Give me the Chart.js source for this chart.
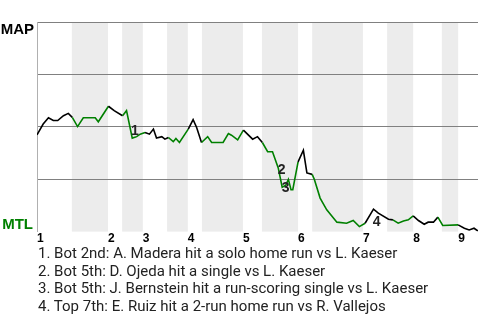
<!DOCTYPE html>
<html>
<head>
<meta charset="utf-8">
<script src="https://cdn.jsdelivr.net/npm/chart.js@4.4.0/dist/chart.umd.min.js"></script>
<style>
  body { margin:0; background:#fff; }
  #wrap { position:relative; width:480px; height:320px; }
  #notes { position:absolute; left:38px; top:245px; font:15px Roboto, sans-serif; color:#222; line-height:17.7px; white-space:nowrap; }
</style>
</head>
<body>
<div id="wrap">
  <canvas id="myChart" width="480" height="246"></canvas>
  <div id="notes"></div>
</div>
<script>
// game progress (plays, 0..100) and MAP win probability in %
const playX = [0,1.4,2.6,3.7,4.7,6.0,7.1,8.0,9.2,10.5,13.2,13.9,16.2,17.5,19.4,20.3,21.6,22.6,23.4,24.5,
  25.5,26.4,27.1,28.3,29.0,29.8,30.9,31.5,32.3,34.3,35.4,36.2,37.3,38.7,39.6,42.2,43.4,44.1,45.5,46.8,
  48.9,50.0,51.1,52.3,53.4,54.7,55.6,56.4,57.0,57.6,58.0,59.2,60.4,61.2,62.4,62.9,64.2,65.7,68.0,70.2,
  71.7,73.1,74.4,76.3,77.4,79.7,80.7,81.9,83.1,84.2,85.3,86.5,87.8,88.7,89.9,90.9,92.0,95.5,96.9,98.0,99.1,100];
const mapWinPct = [46.2,51.3,54.3,53.0,53.0,55.3,56.4,54.5,50.1,54.3,54.3,52.4,59.8,57.7,55.3,57.7,44.6,45.3,46.5,47.3,
  46.5,48.9,44.6,45.3,44.1,44.9,42.9,44.4,42.5,48.9,53.4,49.7,42.5,45.3,42.5,42.5,46.8,46.0,43.8,48.4,
  44.1,45.3,42.5,38.1,38.1,30.4,21.2,22.1,24.9,20.0,20.0,33.3,38.8,28.0,27.3,24.9,16.0,10.4,4.5,4.0,
  5.3,2.4,4.0,10.7,8.8,5.9,5.6,4.0,5.1,5.6,7.5,5.3,3.5,4.5,4.5,6.9,2.9,3.2,1.6,0.8,1.6,0.3];

const innings = ['1','2','3','4','5','6','7','8','9'];
const inningStart = [0,16.1,24.0,34.2,46.7,59.2,73.9,85.3,95.5];
const bottomStart = [7.9,19.3,29.5,37.4,51.0,62.4,79.4,91.8];
// MTL batting (line drawn green)
const greenFrom = [7.9,19.3,29.5,37.2,51.0,62.4,80.7,90.9];
const greenTo = [16.1,24.0,34.2,46.7,59.2,73.9,85.3,95.5];

const eventNum = ['1','2','3','4'];
const eventX = [22.2,55.5,56.4,77.0];
const eventY = [48.1,29.2,20.8,4.3];
const eventText = [
  'Bot 2nd: A. Madera hit a solo home run vs L. Kaeser',
  'Bot 5th: D. Ojeda hit a single vs L. Kaeser',
  'Bot 5th: J. Bernstein hit a run-scoring single vs L. Kaeser',
  'Top 7th: E. Ruiz hit a 2-run home run vs R. Vallejos'
];

const green = '#008000';

document.getElementById('notes').innerHTML =
  eventText.map((t,i) => eventNum[i] + '. ' + t).join('<br>');

function isGreen(x) {
  for (let i = 0; i < greenFrom.length; i++) {
    if (x >= greenFrom[i] && x < greenTo[i]) return true;
  }
  return false;
}

const bandsPlugin = {
  id: 'bands',
  beforeDraw(chart) {
    const c = chart.ctx, a = chart.chartArea, xs = chart.scales.x;
    c.save();
    c.fillStyle = '#ececec';
    for (let i = 0; i < bottomStart.length; i++) {
      const x0 = xs.getPixelForValue(bottomStart[i]);
      const x1 = xs.getPixelForValue(inningStart[i+1]);
      c.fillRect(x0, a.top, x1 - x0, a.bottom - a.top);
    }
    c.restore();
  }
};

const labelsPlugin = {
  id: 'labels',
  afterDatasetsDraw(chart) {
    const c = chart.ctx, a = chart.chartArea, xs = chart.scales.x, ys = chart.scales.y;
    c.save();
    c.font = 'bold 15px "Liberation Sans", Arial, sans-serif';
    c.textAlign = 'right';
    c.textBaseline = 'alphabetic';
    c.fillStyle = '#000';
    c.fillText('MAP', a.left - 3, a.top + 12);
    c.fillStyle = green;
    c.fillText('MTL', a.left - 4, a.bottom - 3);
    c.font = 'bold 14px "Liberation Sans", Arial, sans-serif';
    c.textAlign = 'center';
    c.textBaseline = 'middle';
    c.fillStyle = '#222';
    for (let i = 0; i < eventNum.length; i++) {
      c.fillText(eventNum[i], xs.getPixelForValue(eventX[i]), ys.getPixelForValue(eventY[i]));
    }
    c.restore();
  }
};

const ctx = document.getElementById('myChart').getContext('2d');
const myChart = new Chart(ctx, {
  type: 'line',
  data: {
    datasets: [{
      data: playX.map((x,i) => ({x: x, y: mapWinPct[i]})),
      borderColor: '#000',
      borderWidth: 1.6,
      pointRadius: 0,
      tension: 0,
      segment: {
        borderColor: s => isGreen(s.p0.parsed.x) ? green : '#000'
      }
    }]
  },
  options: {
    responsive: false,
    animation: false,
    layout: { padding: { left: 37, top: 22, right: 2, bottom: 0 } },
    plugins: { legend: { display: false }, tooltip: { enabled: false } },
    scales: {
      x: {
        type: 'linear',
        min: 0,
        max: 100,
        grid: { display: false, drawTicks: false },
        border: { display: false },
        afterBuildTicks: axis => { axis.ticks = inningStart.map(v => ({value: v})); },
        ticks: {
          autoSkip: false,
          maxRotation: 0,
          align: 'start',
          padding: 0,
          color: '#000',
          font: { family: '"Liberation Sans", Arial, sans-serif', size: 12, weight: 'bold' },
          callback: (v, i) => innings[i]
        }
      },
      y: {
        min: 0,
        max: 100,
        ticks: { display: false, stepSize: 25 },
        grid: {
          drawTicks: false,
          lineWidth: 1,
          color: c => c.tick && c.tick.value === 0 ? 'rgba(0,0,0,0)' : '#808080'
        },
        border: { display: true, color: '#b0b0b0', width: 1 }
      }
    }
  },
  plugins: [bandsPlugin, labelsPlugin]
});
</script>
</body>
</html>
